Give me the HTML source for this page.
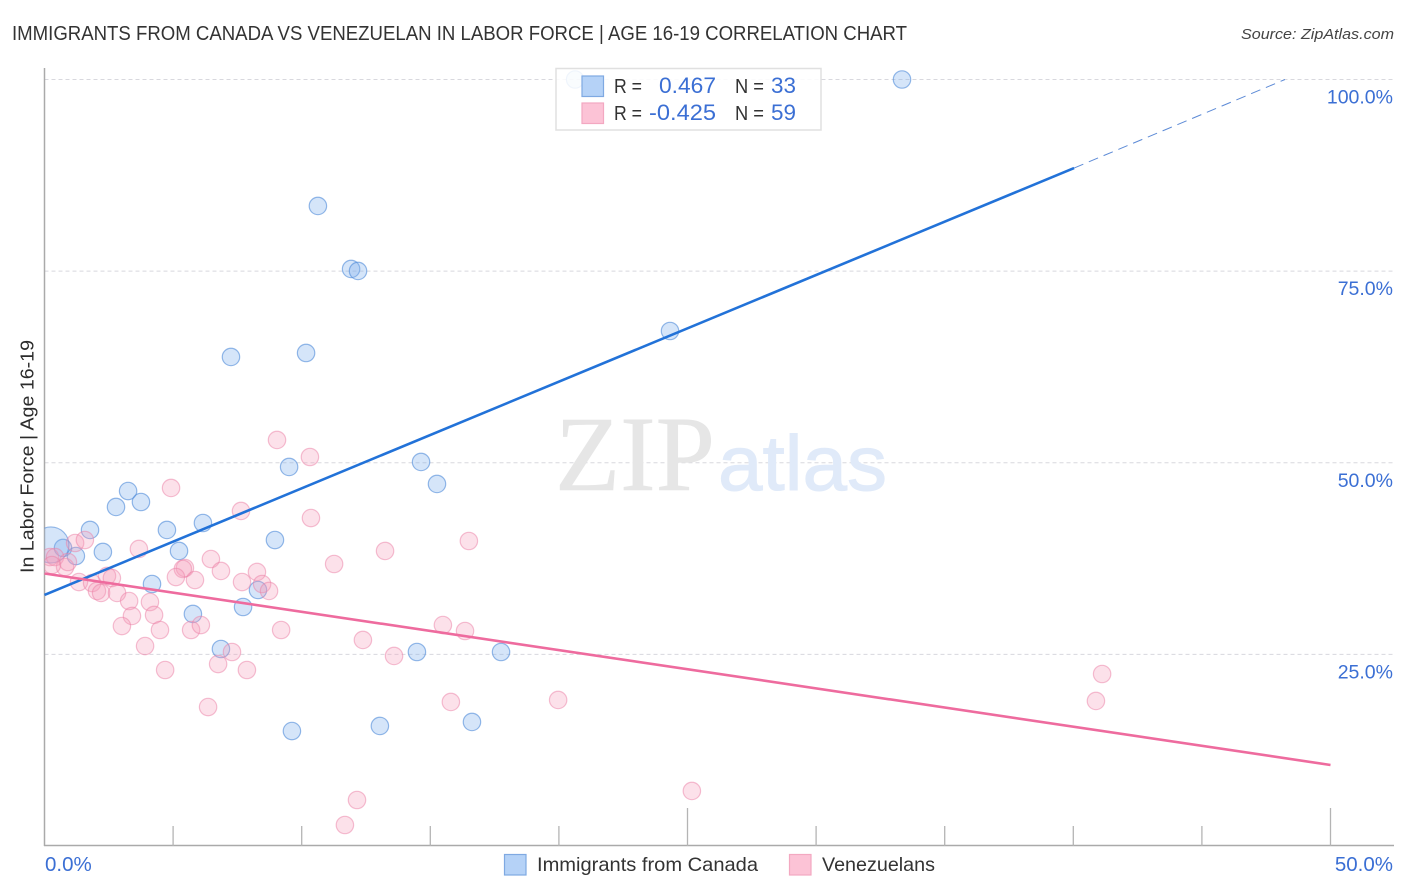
<!DOCTYPE html>
<html lang="en">
<head>
<meta charset="utf-8">
<title>Immigrants from Canada vs Venezuelan in Labor Force | Age 16-19 Correlation Chart</title>
<style>
html,body{margin:0;padding:0;background:#fff;}
svg{display:block;font-family:"Liberation Sans",sans-serif;}
</style>
</head>
<body>
<svg id="chart" width="1406" height="892" viewBox="0 0 1406 892" xmlns="http://www.w3.org/2000/svg">
  <defs>
    <clipPath id="plot-clip"><rect x="44.5" y="60" width="1350" height="786"/></clipPath>
  </defs>
  <rect x="0" y="0" width="1406" height="892" fill="#ffffff"/>
  <text x="12" y="40" font-size="20" fill="#333333" textLength="895" lengthAdjust="spacingAndGlyphs">IMMIGRANTS FROM CANADA VS VENEZUELAN IN LABOR FORCE | AGE 16-19 CORRELATION CHART</text>
  <text x="1241" y="39" font-size="15" font-style="italic" fill="#444444" textLength="153" lengthAdjust="spacingAndGlyphs">Source: ZipAtlas.com</text>
  <text transform="translate(33.5,573) rotate(-90)" font-size="18.5" fill="#2b2b2b" textLength="233" lengthAdjust="spacingAndGlyphs">In Labor Force | Age 16-19</text>

  <g id="grid"></g>

  <g>
    <text x="555" y="490" font-family="'Liberation Serif',serif" font-size="107" fill="#e6e6e6" stroke="#e6e6e6" stroke-width="0.6" textLength="160" lengthAdjust="spacingAndGlyphs">ZIP</text>
    <text x="718" y="490" font-size="78" fill="#e0eaf9" stroke="#e0eaf9" stroke-width="1" textLength="169" lengthAdjust="spacingAndGlyphs">atlas</text>
  </g>

  <g id="axes">
    <line x1="44.5" y1="68" x2="44.5" y2="846" stroke="#aaaaaa" stroke-width="1.5"/>
    <line x1="44" y1="845.5" x2="1394" y2="845.5" stroke="#aaaaaa" stroke-width="1.5"/>
  </g>

  <g id="points" clip-path="url(#plot-clip)"></g>
  <g id="trends"></g>
  <g id="tick-labels"></g>

  <g>
    <rect x="556" y="68.5" width="265" height="61.5" fill="#ffffff" fill-opacity="0.86" stroke="#e0e0e0" stroke-width="1.5"/>
    <rect x="582" y="76" width="21.5" height="20.5" fill="#b5d2f7" stroke="#7fa9e2" stroke-width="1.2"/>
    <rect x="582" y="103" width="21.5" height="20.5" fill="#fcc3d6" stroke="#f3a8c1" stroke-width="1.2"/>
    <text x="614" y="93" font-size="20" fill="#333333" textLength="28" lengthAdjust="spacingAndGlyphs">R =</text>
    <text x="716" y="93" font-size="22" fill="#3b6fd4" text-anchor="end" textLength="57" lengthAdjust="spacingAndGlyphs">0.467</text>
    <text x="735" y="93" font-size="20" fill="#333333" textLength="29" lengthAdjust="spacingAndGlyphs">N =</text>
    <text x="771" y="93" font-size="22" fill="#3b6fd4" textLength="25" lengthAdjust="spacingAndGlyphs">33</text>
    <text x="614" y="120" font-size="20" fill="#333333" textLength="28" lengthAdjust="spacingAndGlyphs">R =</text>
    <text x="716" y="120" font-size="22" fill="#3b6fd4" text-anchor="end" textLength="67" lengthAdjust="spacingAndGlyphs">-0.425</text>
    <text x="735" y="120" font-size="20" fill="#333333" textLength="29" lengthAdjust="spacingAndGlyphs">N =</text>
    <text x="771" y="120" font-size="22" fill="#3b6fd4" textLength="25" lengthAdjust="spacingAndGlyphs">59</text>
  </g>

  <g>
    <rect x="504.5" y="854.5" width="21.5" height="20.5" fill="#b5d2f7" stroke="#7fa9e2" stroke-width="1.2"/>
    <text x="537" y="871" font-size="19.5" fill="#333333" textLength="221" lengthAdjust="spacingAndGlyphs">Immigrants from Canada</text>
    <rect x="789.5" y="854.5" width="21.5" height="20.5" fill="#fcc3d6" stroke="#f3a8c1" stroke-width="1.2"/>
    <text x="822" y="871" font-size="19.5" fill="#333333" textLength="113" lengthAdjust="spacingAndGlyphs">Venezuelans</text>
  </g>
</svg>
<script>
// ---- chart data (percent values) ----
const xTickValues = [5,10,15,20,25,30,35,40,45,50];
const xLabelValues = [0,50];
const yTickValues = [25,50,75,100];

const canadaX = [20.63,33.34,10.63,11.92,12.19,24.32,7.25,10.17,9.51,14.64,15.26,3.25,3.75,2.78,1.77,4.76,6.16,8.96,0.72,2.27,1.22,5.23,4.18,8.3,7.72,5.77,6.86,14.48,17.75,9.62,13.04,16.62,0.25];
const canadaY = [100,100,83.5,75.28,75.02,67.19,63.8,64.32,49.45,50.1,47.23,46.31,44.88,44.23,41.23,41.23,42.14,39.92,38.88,38.36,37.83,38.49,34.18,33.4,31.18,30.27,25.7,25.31,25.31,15,15.66,16.18,39.27];
const canadaWeight = [1,1,1,1,1,1,1,1,1,1,1,1,1,1,1,1,1,1,1,1,1,1,1,1,1,1,1,1,1,1,1,1,4.3];

const venezuelanX = [4.92,7.64,1.19,1.57,3.67,6.47,6.86,5.46,5.38,5.11,5.85,7.68,8.26,8.46,8.73,2.43,2.62,1.34,1.85,2.04,2.2,2.82,3.29,4.1,3.4,4.26,3.01,4.49,5.7,6.08,9.2,3.91,7.29,6.75,4.69,7.87,6.36,0.21,0.41,0.8,0.91,0.29,9.04,10.32,10.36,16.5,13.24,11.26,15.49,16.35,12.38,13.59,15.8,19.97,41.12,40.88,25.17,12.15,11.68];
const venezuelanY = [46.71,43.71,39.53,39.92,38.75,37.44,35.88,36.27,36.14,35.09,34.7,34.44,35.75,34.18,33.27,35.23,34.96,34.44,34.31,33.27,33.01,33.01,31.96,31.83,30.01,30.14,28.7,28.18,28.18,28.83,28.18,26.09,25.31,23.74,22.96,22.96,18.13,37.7,37.7,36.4,37.05,36.66,52.97,50.75,42.79,39.79,38.49,36.79,28.83,28.05,26.88,24.79,18.79,19.05,22.44,18.92,7.18,6,2.74];

const canadaTrendX = [0,40.03];
const canadaTrendY = [32.75,88.45];
const canadaExtensionX = [40.03,48.23];
const canadaExtensionY = [88.45,100];
const venezuelanTrendX = [0,50];
const venezuelanTrendY = [35.55,10.57];

// ---- axis functions ----
function xScale(v){ return 44.5 + v * 25.72; }
function yScale(v){ return 846 - v * 7.665; }

const NS = 'http://www.w3.org/2000/svg';
function make(tag, attrs, parent){
  const el = document.createElementNS(NS, tag);
  for (const k in attrs) el.setAttribute(k, attrs[k]);
  parent.appendChild(el);
  return el;
}
const gridG = document.getElementById('grid');
const axesG = document.getElementById('axes');
const pointsG = document.getElementById('points');
const trendsG = document.getElementById('trends');
const labelsG = document.getElementById('tick-labels');

yTickValues.forEach(function(v){
  const line = make('line', {x1:44.5, y1:yScale(v), x2:1393, y2:yScale(v), stroke:'#d8d8de', 'stroke-width':1, 'stroke-dasharray':'4 3'}, gridG);
  
  
  const label = make('text', {x:1393, y:yScale(v)+24, 'font-size':19.5, fill:'#3b6fd4', 'text-anchor':'end'}, labelsG);
  label.textContent = v.toFixed(1) + '%';
  
  
});

xTickValues.forEach(function(v){
  const top = v % 25 === 0 ? 808 : 826;
  const tick = make('line', {x1:xScale(v), y1:top, x2:xScale(v), y2:846, stroke:'#b4b4b4', 'stroke-width':1.3}, axesG);
  
  
});

xLabelValues.forEach(function(v){
  const label = make('text', {x: v === 0 ? 45 : 1393, y:871, 'font-size':20.5, fill:'#3b6fd4', 'text-anchor': v === 0 ? 'start' : 'end'}, labelsG);
  label.textContent = v.toFixed(1) + '%';
  
  
});

canadaX.forEach(function(v, i){
  const c = make('circle', {cx:xScale(v), cy:yScale(canadaY[i]), r:8.7*Math.sqrt(canadaWeight[i]), fill:'#7fb0ee', 'fill-opacity':0.33, stroke:'#4f8ad8', 'stroke-opacity':0.6, 'stroke-width':1.2}, pointsG);
  
  
});

venezuelanX.forEach(function(v, i){
  const c = make('circle', {cx:xScale(v), cy:yScale(venezuelanY[i]), r:8.7, fill:'#f59dbb', 'fill-opacity':0.3, stroke:'#ec7fa6', 'stroke-opacity':0.5, 'stroke-width':1.2}, pointsG);
  
  
});

const canadaLine = make('line', {x1:xScale(canadaTrendX[0]), y1:yScale(canadaTrendY[0]), x2:xScale(canadaTrendX[1]), y2:yScale(canadaTrendY[1]), stroke:'#2272d8', 'stroke-width':2.6}, trendsG);



const canadaDash = make('line', {x1:xScale(canadaExtensionX[0]), y1:yScale(canadaExtensionY[0]), x2:xScale(canadaExtensionX[1]), y2:yScale(canadaExtensionY[1]), stroke:'#5c8ad6', 'stroke-width':1, 'stroke-dasharray':'10 6'}, trendsG);



const venezuelanLine = make('line', {x1:xScale(venezuelanTrendX[0]), y1:yScale(venezuelanTrendY[0]), x2:xScale(venezuelanTrendX[1]), y2:yScale(venezuelanTrendY[1]), stroke:'#ee6b9e', 'stroke-width':2.6}, trendsG);


</script>
</body>
</html>
